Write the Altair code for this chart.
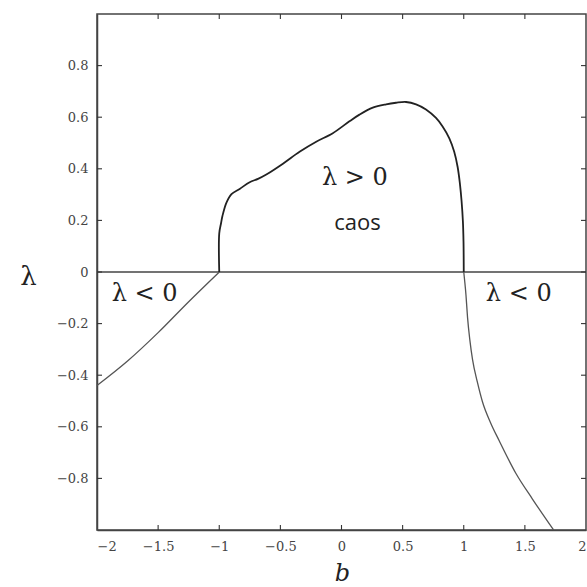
import altair as alt
import pandas as pd

# Lyapunov exponent lambda as a function of the parameter b
left_b = [-2.0, -1.75, -1.5, -1.25, -1.0]
left_lam = [-0.44, -0.345, -0.235, -0.115, 0.0]

chaos_b = [-1.0, -1.0, -0.985, -0.974, -0.941, -0.90, -0.833, -0.751, -0.683,
           -0.615, -0.479, -0.343, -0.207, -0.071, 0.065, 0.147, 0.256, 0.365,
           0.446, 0.528, 0.61, 0.691, 0.773, 0.827, 0.882, 0.922, 0.95, 0.969,
           0.982, 0.993, 0.998, 1.0]
chaos_lam = [0.0, 0.15, 0.19, 0.217, 0.269, 0.302, 0.322, 0.348, 0.361,
             0.378, 0.42, 0.466, 0.505, 0.538, 0.584, 0.61, 0.637, 0.65,
             0.656, 0.659, 0.65, 0.63, 0.597, 0.564, 0.518, 0.466, 0.407, 0.341,
             0.276, 0.197, 0.118, 0.0]

decline_b = [1.0, 1.018, 1.031, 1.05, 1.072, 1.113, 1.153, 1.22, 1.29,
             1.426, 1.562, 1.735]
decline_lam = [0.0, -0.088, -0.176, -0.264, -0.34, -0.43, -0.503, -0.585,
               -0.654, -0.78, -0.88, -1.0]

x_ticks = [-2, -1.5, -1, -0.5, 0, 0.5, 1, 1.5, 2]
y_ticks = [-0.8, -0.6, -0.4, -0.2, 0, 0.2, 0.4, 0.6, 0.8]

region_text = ["λ < 0", "λ > 0", "λ < 0"]
region_b = [-1.61, 0.11, 1.45]
region_lam = [-0.087, 0.366, -0.087]

AX = "#444"
TICK = "#333"
SERIF = "DejaVu Serif"
W, H = 489, 516          # plot size in pixels
B_MIN, B_MAX = -2.0, 2.0
L_MIN, L_MAX = -1.0, 1.0
TK = 5                   # inward tick length in pixels
TKB = TK * (B_MAX - B_MIN) / W   # same length in b units
TKL = TK * (L_MAX - L_MIN) / H   # same length in lambda units

xs = alt.Scale(domain=[B_MIN, B_MAX], nice=False, zero=False)
ys = alt.Scale(domain=[L_MIN, L_MAX], nice=False, zero=False)

left_df = pd.DataFrame({"b": left_b, "lam": left_lam})
chaos_df = pd.DataFrame({"b": chaos_b, "lam": chaos_lam, "i": range(len(chaos_b))})
decline_df = pd.DataFrame({"b": decline_b, "lam": decline_lam})
region_df = pd.DataFrame({"b": region_b, "lam": region_lam, "t": region_text})
zero_df = pd.DataFrame({"lam": [0.0]})
caos_df = pd.DataFrame({"b": [0.13], "lam": [0.19], "t": ["caos"]})

inner_x = x_ticks[1:-1]
xtick_df = pd.DataFrame({
    "b": inner_x * 2,
    "lam": [L_MIN] * len(inner_x) + [L_MAX] * len(inner_x),
    "lam2": [L_MIN + TKL] * len(inner_x) + [L_MAX - TKL] * len(inner_x),
})
ytick_df = pd.DataFrame({
    "lam": y_ticks * 2,
    "b": [B_MIN] * len(y_ticks) + [B_MAX] * len(y_ticks),
    "b2": [B_MIN + TKB] * len(y_ticks) + [B_MAX - TKB] * len(y_ticks),
})

x_axis = alt.Axis(
    values=x_ticks, format="~g", ticks=False, domain=True, domainColor=AX,
    domainWidth=1.5, grid=False, labelFont=SERIF, labelFontSize=13,
    labelColor="#444", labelPadding=10, title="b", titleFont=SERIF,
    titleFontStyle="italic", titleFontWeight="normal", titleFontSize=24,
    titleColor="#222", titleX=245, titleY=43, titleBaseline="middle",
)
y_axis = alt.Axis(
    values=y_ticks, format="~g", ticks=False, domain=True, domainColor=AX,
    domainWidth=1.5, grid=False, labelFont=SERIF, labelFontSize=13,
    labelColor="#444", labelPadding=9, title="λ", titleFont=SERIF,
    titleFontWeight="normal", titleFontSize=26, titleColor="#222",
    titleAngle=0, titleX=-69, titleY=262, titleAlign="center",
    titleBaseline="middle",
)

# every layer shares the same x/y definition, so the axes merge into one pair
bx = alt.X("b:Q", scale=xs, axis=x_axis)
ly = alt.Y("lam:Q", scale=ys, axis=y_axis)

zero_line = alt.Chart(zero_df).mark_rule(color=AX, strokeWidth=1.5).encode(y=ly)

left_line = alt.Chart(left_df).mark_line(
    color="#555", strokeWidth=1.3, interpolate="monotone"
).encode(x=bx, y=ly)

chaos_line = alt.Chart(chaos_df).mark_line(
    color="#222", strokeWidth=1.8, interpolate="catmull-rom"
).encode(x=bx, y=ly, order="i:Q")

decline_line = alt.Chart(decline_df).mark_line(
    color="#555", strokeWidth=1.3, interpolate="monotone"
).encode(x=bx, y=ly)

# inward tick marks on the bottom/top and left/right sides of the frame
x_tick_marks = alt.Chart(xtick_df).mark_rule(color=TICK, strokeWidth=1.1).encode(
    x=bx, y=ly, y2="lam2:Q"
)
y_tick_marks = alt.Chart(ytick_df).mark_rule(color=TICK, strokeWidth=1.1).encode(
    y=ly, x=bx, x2="b2:Q"
)

regions = alt.Chart(region_df).mark_text(
    font=SERIF, fontSize=24, color="#222", align="center", baseline="middle"
).encode(x=bx, y=ly, text="t:N")

caos = alt.Chart(caos_df).mark_text(
    font="Open Sans", fontSize=22, color="#222", align="center", baseline="middle"
).encode(x=bx, y=ly, text="t:N")

chart = (
    alt.layer(zero_line, left_line, chaos_line, decline_line,
              x_tick_marks, y_tick_marks, regions, caos)
    .properties(
        width=W,
        height=H,
        autosize=alt.AutoSizeParams(type="none"),
        padding={"left": 97, "top": 14, "right": 1, "bottom": 57},
        background="white",
    )
    .configure_view(stroke=AX, strokeWidth=1.5)
)

chart.save("out.html", embed_options={"renderer": "svg", "actions": False})
